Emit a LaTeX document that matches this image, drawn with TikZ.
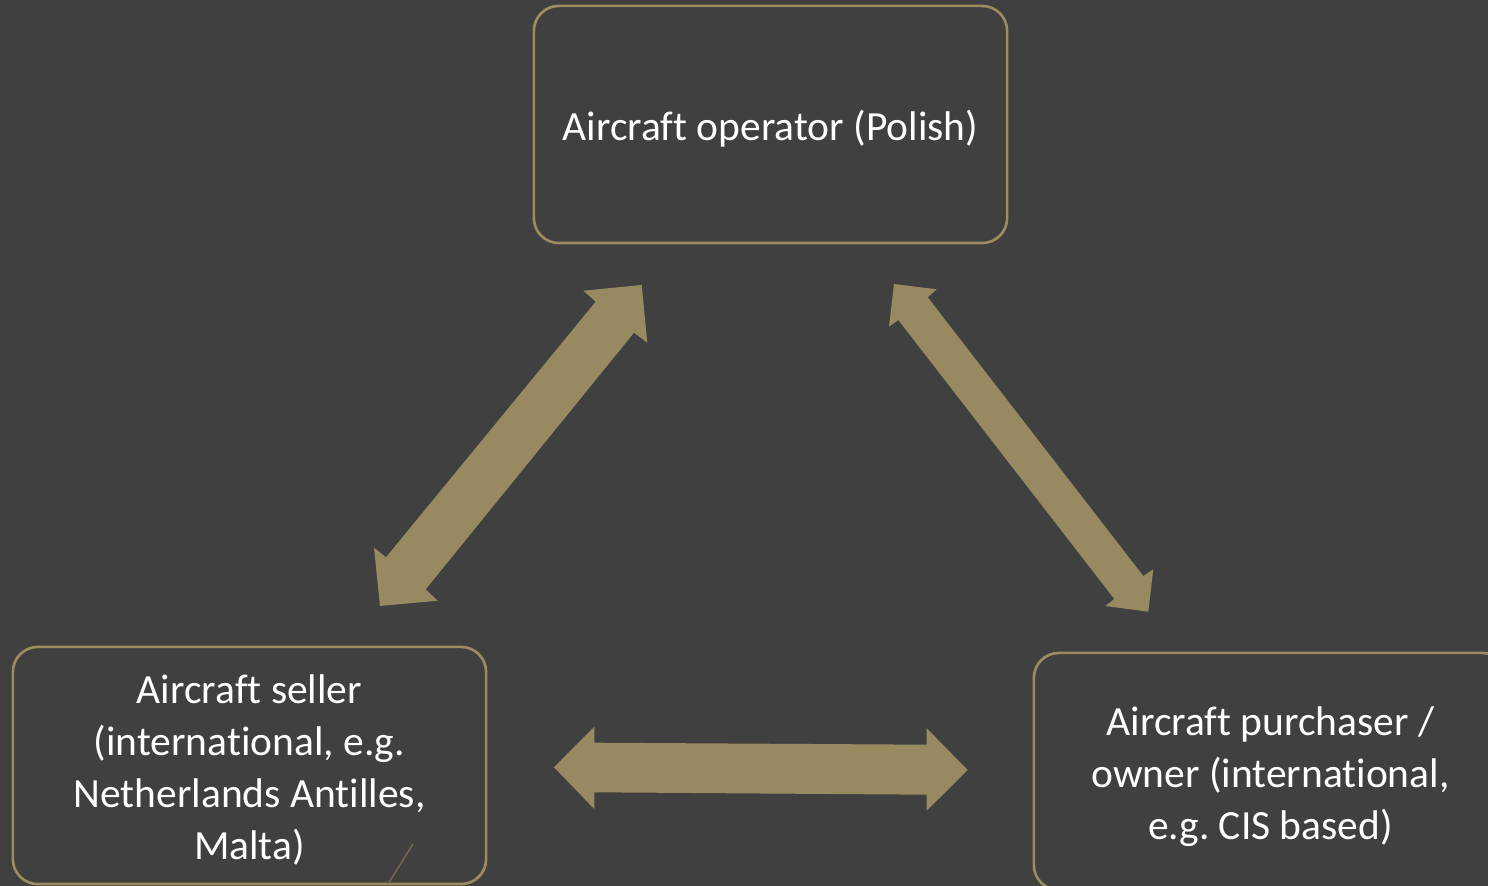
\documentclass[tikz,border=0pt]{standalone}
\usepackage{fontspec}
\setmainfont[Ligatures=NoCommon]{Carlito}
\frenchspacing
\definecolor{bg}{RGB}{64,64,64}
\definecolor{gold}{RGB}{152,138,96}
\definecolor{goldline}{RGB}{156,140,96}
\definecolor{thinline}{RGB}{120,105,78}
\newcommand{\boxtext}[1]{\raisebox{-0.06cm}[\height][\depth]{\begin{tabular}{@{}c@{}}#1\end{tabular}}}
\begin{document}
\begin{tikzpicture}[x=0.01cm,y=-0.01cm,
  entity/.style={draw=goldline, line width=0.75pt, rounded corners=0.25cm,
    minimum width=4.73cm, minimum height=2.37cm, inner sep=0pt,
    text=white,
    font=\fontsize{11.8pt}{14.8pt}\selectfont},
  blockarrow/.style={fill=gold, draw=none}]
\useasboundingbox (0,0) rectangle (1488,886);
\fill[bg] (0,0) rectangle (1488,886);
\clip (0,0) rectangle (1488,886);

\node[entity] (operator) at (770.5,124.5) {\boxtext{Aircraft operator (Polish)}};
\node[entity] (seller) at (249.5,765.5) {\boxtext{Aircraft seller\\(international, e.g.\\Netherlands Antilles,\\Malta)}};
\node[entity] (buyer) at (1270.5,771.5) {\boxtext{Aircraft purchaser /\\owner (international,\\e.g. CIS based)}};

% left diagonal double arrow (operator <-> seller)
\fill[blockarrow] (641.7,285) -- (647.3,342.7) -- (634,332.7) -- (425.7,589.3)
  -- (437.7,600.7) -- (380,606) -- (374,547.7) -- (386,557.3) -- (595.7,301.7)
  -- (583.3,290.7) -- cycle;

% right diagonal double arrow (operator <-> buyer)
\fill[blockarrow] (894,284) -- (936.7,289.3) -- (927.7,297.3) -- (1143.3,576)
  -- (1153.3,569.3) -- (1148.3,611.7) -- (1105.3,606) -- (1114.3,599)
  -- (898.3,320) -- (889,326.7) -- cycle;

% horizontal double arrow (seller <-> buyer)
\fill[blockarrow] (554,767.3) -- (594.3,726.7) -- (594.3,742.7) -- (926.7,744.7)
  -- (926.7,728.3) -- (967.7,770) -- (926.7,810.7) -- (926.7,794.7)
  -- (594.3,792.3) -- (594.3,809) -- cycle;

% small stray line
\coordinate (s1) at (388,884);
\coordinate (s2) at (413,844);
\draw[thinline, line width=0.4pt] (s1) -- (s2);
\end{tikzpicture}
\end{document}
